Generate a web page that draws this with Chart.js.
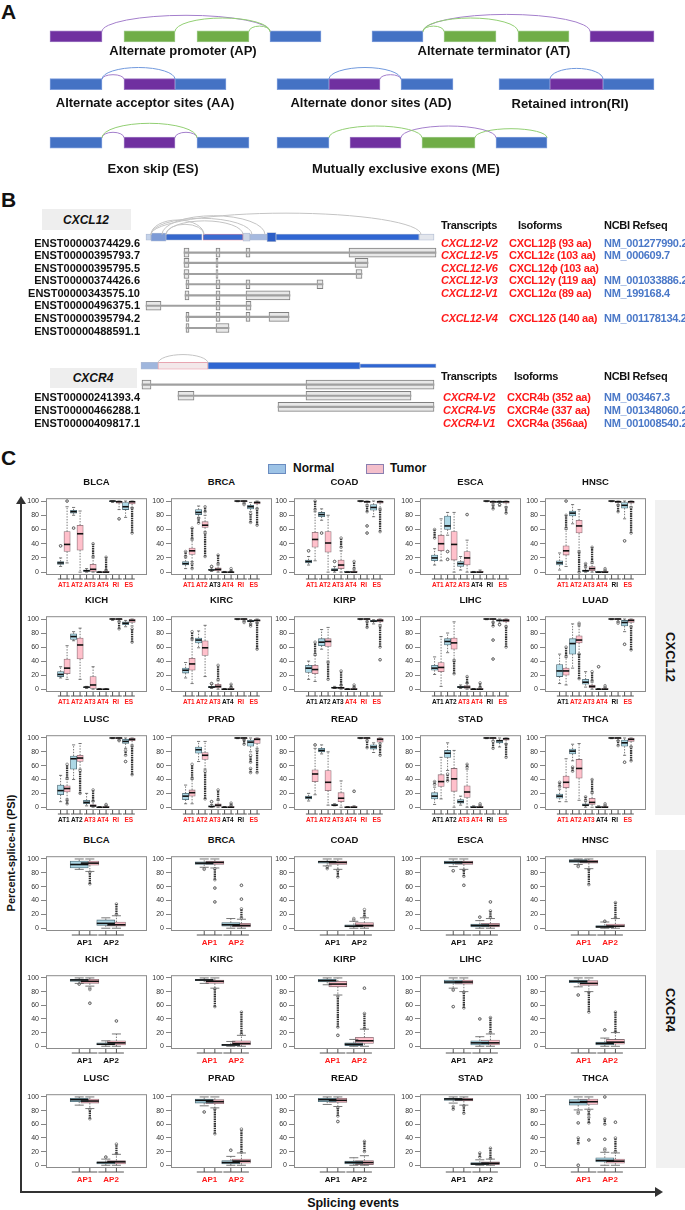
<!DOCTYPE html>
<html>
<head>
<meta charset="utf-8">
<script src="https://cdn.jsdelivr.net/npm/chart.js@4.4.1/dist/chart.umd.min.js"></script>
<style>
  body { margin: 0; background: #fff; }
  #page { position: relative; width: 685px; height: 1210px; overflow: hidden; background: #fff;
          font-family: 'Liberation Sans', Arial, sans-serif; color: #111; }
  .t { position: absolute; white-space: nowrap; font-weight: bold; line-height: 1; }
  canvas { position: absolute; }
</style>
</head>
<body>
<div id="page"></div>
<script>
// ---------- data ----------
const cancers = ['BLCA','BRCA','COAD','ESCA','HNSC','KICH','KIRC','KIRP','LIHC','LUAD','LUSC','PRAD','READ','STAD','THCA'];
const cxcl12Events = ['AT1','AT2','AT3','AT4','RI','ES'];
const cxcr4Events = ['AP1','AP2'];
const psiTicks = [0, 20, 40, 60, 80, 100];
const cxcl12Positions = [1,2,3,4,5,6,7,8,9,10,11,12];
const cxcr4Positions = [1,2,3.5,4.5];

// significance of each event label (1 = red)
const cxcl12Significant = ['111111','110111','111111','111001','111101','111111','111011','000111','001101','011101','001111','111001','111111','001101','111001'];
const cxcr4Significant = ['00','11','00','00','11','00','11','11','00','11','11','11','00','00','11'];

// box: [lowWhisker, q1, median, q3, highWhisker, outlierRanges]
// order: Normal AT1, Tumor AT1, Normal AT2, Tumor AT2, ...
const CXCL12_BLCA = [[8,11,13,15,20,[[37,37]]],[13,29,39,57,92,[[100,100]]],[80,83,85,87,91,[[62,62]]],[0,31,54,66,86],
  [0,1,2,3,5],[0,1,4,11,20,[[22,40]]],[0,0,0,0,1],[0,0,0,1,2,[[3,21]]],[98,99,100,100,100],[88,97,99,100,100,[[75,75]]],
  [77,88,92,98,100],[91,96,99,100,100,[[55,90]]]];
const CXCL12_BRCA = [[5,10,12,15,20,[[22,29]]],[15,25,30,34,45,[[5,12],[47,62]]],[77,81,84,88,93,[[69,76]]],[57,63,66,71,80,[[22,55],[85,92]]],
  [1,3,3,4,6,[[8,8]]],[0,2,4,6,10,[[12,24]]],[0,0,0,0,1],[0,0,0,0,1,[[2,5]]],[99,100,100,100,100],[97,99,100,100,100,[[95,97]]],
  [85,89,92,94,98,[[70,82]]],[90,96,98,99,100,[[66,89]]]];
const CXCL12_COAD = [[10,13,15,17,22,[[30,30]]],[16,35,46,56,85,[[88,100]]],[73,78,81,84,89,[[55,55]]],[0,28,41,57,80],
  [0,2,3,5,8,[[15,15]]],[0,5,10,17,30,[[35,48]]],[0,0,0,1,1],[0,0,0,1,3,[[5,15]]],[99,100,100,100,100],[95,98,99,100,100,[[55,55],[65,65],[85,93]]],
  [78,87,91,95,100],[90,97,99,100,100,[[57,88]]]];
const CXCL12_ESCA = [[10,16,20,24,33,[[48,60]]],[16,30,40,52,75],[52,60,65,79,84,[[18,18],[29,29]]],[0,17,39,57,84],
  [3,8,12,15,22],[0,10,20,29,45,[[81,81]]],[0,0,0,0,1],[0,0,0,1,3],[99,100,100,100,100],[96,98,99,100,100,[[89,94]]],
  [93,98,99,100,100,[[95,95]]],[92,97,99,100,100,[[83,91]]]];
const CXCL12_HNSC = [[3,10,13,16,27],[8,24,30,37,60,[[62,80],[100,100]]],[68,79,83,86,95],[30,55,65,73,88,[[0,28]]],
  [0,1,2,3,6,[[8,12]]],[0,2,5,8,12,[[14,35]]],[0,0,0,1,1],[0,0,0,1,2,[[3,5]]],[99,100,100,100,100],[95,98,99,100,100,[[85,94]]],
  [75,90,94,98,100,[[44,44]]],[92,97,99,100,100,[[55,91]]]];
const CXCL12_KICH = [[16,18,21,25,32],[14,22,30,43,62],[69,71,75,79,82],[14,43,63,73,87],
  [1,2,3,3,4],[0,1,6,18,32],[0,0,0,0,1],[0,0,0,0,1],[98,100,100,100,100],[97,99,100,100,100,[[86,96]]],
  [89,92,94,96,98],[90,95,98,100,100,[[67,86]]]];
const CXCL12_KIRC = [[16,23,27,30,38],[8,27,36,44,70,[[72,82]]],[59,66,70,73,83],[18,48,59,69,91],
  [1,2,3,4,7,[[8,8]]],[0,2,4,7,12,[[14,34]]],[0,0,0,0,1],[0,0,0,1,2,[[3,7]]],[99,100,100,100,100],[97,99,100,100,100,[[95,97]]],
  [93,96,97,98,99,[[90,93]]],[95,97,98,99,100,[[57,94]]]];
const CXCL12_KIRP = [[14,24,30,34,40],[11,22,28,34,48,[[50,67]]],[57,62,67,72,85],[40,61,68,72,88,[[14,38]]],
  [1,2,2,3,4],[0,1,2,3,5,[[6,26]]],[0,0,0,0,1],[0,0,0,1,2,[[3,6]]],[99,100,100,100,100],[97,99,100,100,100,[[88,96]]],
  [93,96,97,98,99],[92,96,98,100,100,[[42,42],[60,90]]]];
const CXCL12_LIHC = [[21,27,30,34,46],[4,25,31,38,75],[52,63,68,72,80],[42,57,66,73,96,[[22,40]]],
  [1,2,3,4,6],[0,1,3,5,8,[[9,18]]],[0,0,0,0,1],[0,0,0,1,2,[[3,9]]],[99,100,100,100,100],[96,99,100,100,100,[[43,43],[70,70],[90,95]]],
  [94,97,98,99,100,[[92,92]]],[90,96,98,100,100,[[60,89]]]];
const CXCL12_LUAD = [[8,18,26,35,50],[6,20,26,30,45,[[47,60]]],[30,50,65,72,93],[50,66,70,76,90,[[15,50],[92,94]]],
  [3,7,10,14,25],[0,2,4,6,10,[[12,25]]],[0,0,0,0,1,[[32,32]]],[0,0,0,1,2,[[3,5]]],[99,100,100,100,100],[96,99,100,100,100,[[94,96]]],
  [82,90,95,98,100,[[64,64]]],[90,95,98,100,100,[[56,89]]]];
const CXCL12_LUSC = [[8,18,24,32,46],[12,22,27,31,40,[[5,10],[42,62]]],[40,55,70,74,90],[55,66,71,75,92,[[20,53]]],
  [2,5,7,10,20],[0,1,2,4,8,[[9,25]]],[0,0,0,0,1],[0,0,0,1,2,[[3,4]]],[99,100,100,100,100],[97,99,100,100,100,[[96,97]]],
  [85,92,95,98,100,[[66,66],[75,82]]],[90,96,98,100,100,[[47,88]]]];
const CXCL12_PRAD = [[5,11,16,20,32],[5,16,21,25,40,[[42,62]]],[66,78,83,87,95],[55,69,75,79,95,[[12,52]]],
  [0,1,1,2,4,[[8,8]]],[0,1,3,5,10,[[11,25]]],[0,0,0,0,1],[0,0,0,1,2,[[3,6]]],[99,100,100,100,100],[98,99,100,100,100,[[91,97]]],
  [80,88,94,97,100,[[50,56],[65,75]]],[85,92,98,100,100,[[50,82]]]];
const CXCL12_READ = [[9,12,14,16,20],[18,37,48,54,85,[[90,90]]],[77,80,82,85,90],[3,24,36,53,80],
  [2,3,3,4,5],[0,8,13,21,38],[0,0,0,0,1],[0,0,0,1,2,[[23,23]]],[99,100,100,100,100],[97,99,100,100,100,[[86,96]]],
  [79,84,87,90,93],[88,94,98,100,100,[[75,92]]]];
const CXCL12_STAD = [[4,12,16,21,29,[[33,37]]],[12,30,37,47,72],[53,72,78,82,93,[[38,48]]],[0,23,41,56,82],
  [3,6,8,11,16],[0,14,22,31,55,[[58,62]]],[0,0,0,1,2],[0,0,0,1,2,[[3,5]]],[99,100,100,100,100],[96,99,100,100,100,[[85,95]]],
  [87,93,96,97,100],[92,97,99,100,100,[[72,91]]]];
const CXCL12_THCA = [[8,13,16,19,26,[[30,36]]],[8,28,36,45,70],[67,77,81,84,91,[[52,58]]],[10,42,56,69,92],
  [0,2,3,5,8,[[10,15]]],[0,4,7,13,20,[[22,40]]],[0,0,0,1,2],[0,0,0,1,2,[[3,5]]],[99,100,100,100,100],[96,99,100,100,100,[[89,96]]],
  [75,88,93,97,100,[[65,65]]],[88,95,98,100,100,[[67,87]]]];

// order: Normal AP1, Tumor AP1, Normal AP2, Tumor AP2
const CXCR4_BLCA = [[85,87,92,97,100],[82,91,94,97,100,[[64,81]]],[0,4,7,12,15],[0,3,5,9,18,[[20,35]]]];
const CXCR4_BRCA = [[88,92,94,96,100,[[85,86]]],[87,92,95,97,100,[[38,38],[58,58],[70,86]]],[0,3,5,8,14],[0,2,4,7,13,[[15,28],[42,42],[62,62]]]];
const CXCR4_COAD = [[90,94,96,97,100,[[86,89]]],[85,92,95,97,100,[[74,84]]],[0,2,3,5,10,[[12,14]]],[0,2,4,8,15,[[17,27]]]];
const CXCR4_ESCA = [[89,93,95,97,100,[[83,83]]],[85,92,95,97,100,[[62,62],[75,84]]],[0,2,4,6,11,[[16,16]]],[0,2,4,7,14,[[16,25],[38,38]]]];
const CXCR4_HNSC = [[92,95,97,99,100,[[89,90]]],[86,94,96,98,100,[[63,85]]],[0,1,2,4,9,[[10,10]]],[0,2,3,6,14,[[15,37]]]];
const CXCR4_KICH = [[92,95,97,98,100,[[91,91]]],[88,92,95,98,100,[[63,63],[83,85]]],[0,2,3,5,8],[0,2,5,8,18,[[37,37]]]];
const CXCR4_KIRC = [[92,96,97,98,100],[85,92,95,97,100,[[58,84]]],[0,1,2,3,7],[0,2,4,8,16,[[18,50]]]];
const CXCR4_KIRP = [[90,94,96,98,100],[75,87,91,95,100,[[16,16],[28,73]]],[0,1,3,5,10],[0,4,8,13,25,[[26,48],[85,85]]]];
const CXCR4_LIHC = [[85,92,94,97,100,[[58,58],[82,83]]],[80,91,94,97,100,[[56,79]]],[0,2,5,8,14,[[40,40]]],[0,2,5,9,18,[[20,42]]]];
const CXCR4_LUAD = [[87,93,95,97,100,[[75,75]]],[80,89,92,96,100,[[50,79]]],[0,2,4,6,12,[[24,24]]],[0,3,6,10,20,[[21,50]]]];
const CXCR4_LUSC = [[88,93,96,98,100],[83,91,94,97,100,[[68,82]]],[0,2,4,5,9,[[12,12]]],[0,2,5,7,16,[[17,31]]]];
const CXCR4_PRAD = [[87,91,95,97,100,[[78,78]]],[84,90,93,96,100,[[46,82]]],[0,2,4,7,13,[[22,22]]],[0,3,6,9,18,[[19,53]]]];
const CXCR4_READ = [[89,93,96,98,100],[86,92,95,98,100,[[64,64],[72,84]]],[0,2,4,6,11],[0,1,4,7,14,[[20,35]]]];
const CXCR4_STAD = [[91,95,97,98,100,[[82,86]]],[88,94,96,98,100,[[76,87]]],[0,1,2,4,8,[[12,18]]],[0,1,3,5,9,[[10,25]]]];
const CXCR4_THCA = [[81,88,92,96,100,[[0,0],[32,40],[62,62],[76,78]]],[82,89,93,97,100,[[37,37],[62,70],[74,80]]],
  [0,5,7,11,19,[[22,24],[38,38],[60,68],[100,100]]],[0,3,6,9,18,[[20,40],[63,63]]]];

const cxcl12Data = [CXCL12_BLCA,CXCL12_BRCA,CXCL12_COAD,CXCL12_ESCA,CXCL12_HNSC,CXCL12_KICH,CXCL12_KIRC,CXCL12_KIRP,
  CXCL12_LIHC,CXCL12_LUAD,CXCL12_LUSC,CXCL12_PRAD,CXCL12_READ,CXCL12_STAD,CXCL12_THCA];
const cxcr4Data = [CXCR4_BLCA,CXCR4_BRCA,CXCR4_COAD,CXCR4_ESCA,CXCR4_HNSC,CXCR4_KICH,CXCR4_KIRC,CXCR4_KIRP,
  CXCR4_LIHC,CXCR4_LUAD,CXCR4_LUSC,CXCR4_PRAD,CXCR4_READ,CXCR4_STAD,CXCR4_THCA];

// panel A schematic: exons [start, end, row], arcs [start, end, row, peak]
const aRowY = [30.5, 83.5, 148.5];
const aPurpleExons = [[50,102,0],[590,654,0],[124,175,1],[329,380,1],[550,603,1],[124,175,2],[350,401,2]];
const aGreenExons = [[124,175,0],[197,249,0],[444,496,0],[518,569,0],[422,475,2]];
const aBlueExons = [[270,321,0],[372,423,0],[50,102,1],[175,226,1],[277,329,1],[401,453,1],[499,550,1],[603,654,1],
  [50,102,2],[197,249,2],[277,329,2],[496,547,2]];
const aPurpleArcs = [[102,270,0,7],[423,590,0,6],[102,124,1,73],[380,401,1,73],[102,124,2,137],[175,197,2,137],[401,496,2,130]];
const aGreenArcs = [[175,270,0,10],[249,270,0,19],[423,518,0,10],[423,444,0,19],[102,197,2,127],[329,422,2,130],[475,547,2,133]];
const aBlueArcs = [[102,175,1,65],[329,401,1,65],[550,603,1,66]];
const aLabels = [['Alternate promoter (AP)',183,50],['Alternate terminator (AT)',494,50],['Alternate acceptor sites (AA)',145,102],
  ['Alternate donor sites (AD)',371,102],['Retained intron(RI)',570,103],['Exon skip (ES)',153,168],['Mutually exclusive  exons (ME)',406,168]];

// panel B transcripts
const cxcl12Transcripts = ['ENST00000374429.6','ENST00000395793.7','ENST00000395795.5','ENST00000374426.6',
  'ENST00000343575.10','ENST00000496375.1','ENST00000395794.2','ENST00000488591.1'];
const cxcl12RowY = [243,255,268,280,293,305,318,331];
const cxcl12Exons = [[[184,189],[216,220],[246,250],[349,436]],[[184,189],[216,218],[355,368]],[[184,189],[216,218],[356,362]],
  [[186,189],[216,220],[246,250],[317,323]],[[185,189],[216,220],[246,290]],[[146,161],[216,220],[246,251]],
  [[186,189],[216,220],[246,250],[269,289]],[[186,189],[216,229]]];
const cxcl12Isoforms = [['CXCL12-V2','CXCL12β (93 aa)','NM_001277990.2',0],['CXCL12-V5','CXCL12ε (103 aa)','NM_000609.7',1],
  ['CXCL12-V6','CXCL12ϕ (103 aa)','',2],['CXCL12-V3','CXCL12γ (119 aa)','NM_001033886.2',3],['CXCL12-V1','CXCL12α (89 aa)','NM_199168.4',4],
  ['CXCL12-V4','CXCL12δ (140 aa)','NM_001178134.2',6]];
const cxcr4Transcripts = ['ENST00000241393.4','ENST00000466288.1','ENST00000409817.1'];
const cxcr4RowY = [397,410,423];
const cxcr4Exons = [[[142,151],[306,434]],[[178,194],[306,411]],[[278,434]]];
const cxcr4Isoforms = [['CXCR4-V2','CXCR4b (352 aa)','NM_003467.3',0],['CXCR4-V5','CXCR4e (337 aa)','NM_001348060.2',1],
  ['CXCR4-V1','CXCR4a (356aa)','NM_001008540.2',2]];
// gene models: [start, end, centre y, fill, height]
const geneSegments = [[146,151,225,'#c5d3ea',6],[151,166,225,'#7d9bd6',8],[166,202,225,'#3567cc',6],[203,243,225,'#3a6bd0',6],
  [243,250,225,'#ccd5e5',8],[250,267,225,'#a5b9df',6],[267,276,225,'#2c5ec6',9],[276,419,225,'#2f66d2',6],[419,434,225,'#e3e6ec',6],
  [141,158,375,'#9fb6dd',7],[158,208,375,'#f3e8ea',7],[208,360,375,'#2f66d2',7],[360,436,375,'#2f66d2',4]];
// junction arcs over gene models: [start, end, base y, peak y]
const geneArcs = [[151,421,222,197],[162,265,222,200],[151,252,222,203],[166,243,222,206],[166,204,222,210],[151,204,222,205],[158,208,372,362]];

// ---------- helpers ----------
const FONT = "'Liberation Sans', Arial, sans-serif";
const RED = '#ff1a1a';
const NORMAL_FILL = '#add8e6', NORMAL_LINE = '#4e6a75';
const TUMOR_FILL = '#ffc0cb', TUMOR_LINE = '#8a6f76';
Chart.defaults.font.family = FONT;
const page = document.getElementById('page');

function txt(s, x, y, style) {
  const d = document.createElement('div');
  d.className = 't';
  d.textContent = s;
  d.style.left = x + 'px';
  d.style.top = y + 'px';
  Object.assign(d.style, style || {});
  page.appendChild(d);
  return d;
}
function box(x, y, w, h, style) {
  const d = document.createElement('div');
  Object.assign(d.style, {position:'absolute', left:x+'px', top:y+'px', width:w+'px', height:h+'px'}, style || {});
  page.appendChild(d);
  return d;
}
function newCanvas(x, y, w, h) {
  const c = document.createElement('canvas');
  c.width = w; c.height = h;
  c.style.left = x + 'px'; c.style.top = y + 'px';
  c.style.width = w + 'px'; c.style.height = h + 'px';
  page.appendChild(c);
  return c;
}
function seg(ctx, x1, y1, x2, y2) { ctx.beginPath(); ctx.moveTo(x1, y1); ctx.lineTo(x2, y2); ctx.stroke(); }
function halfEllipse(ctx, x0, x1, yb, yp) {
  ctx.beginPath();
  ctx.ellipse((x0 + x1) / 2, yb, Math.abs(x1 - x0) / 2, Math.abs(yb - yp), 0, Math.PI, 2 * Math.PI);
  ctx.stroke();
}
const C = 'translate(-50%,-50%)', L = 'translateY(-50%)', R = 'translate(-100%,-50%)';

// ---------- panel A ----------
txt('A', 1, 11, {fontSize:'21px', transform:L});
const canA = newCanvas(0, 0, 685, 180);
const exonData = arr => arr.map(e => ({x:[e[0], e[1]], y:aRowY[e[2]]}));
const arcPlugin = (list) => ({
  id: 'arcs',
  afterDatasetsDraw(chart) {
    const ctx = chart.ctx, xs = chart.scales.x, ys = chart.scales.y;
    ctx.save();
    ctx.lineWidth = 1;
    list.forEach(([arcs, color, baseOf]) => {
      ctx.strokeStyle = color;
      arcs.forEach(a => halfEllipse(ctx, xs.getPixelForValue(a[0]), xs.getPixelForValue(a[1]),
        ys.getPixelForValue(baseOf(a)), ys.getPixelForValue(a[3])));
    });
    ctx.restore();
  }
});
const aBase = a => aRowY[a[2]] - 5.5;
new Chart(canA, {
  type: 'bar',
  data: {datasets: [
    {data: exonData(aPurpleExons), backgroundColor:'#7030a0', borderColor:'#9b76c2', borderWidth:1, borderSkipped:false, barThickness:11, grouped:false},
    {data: exonData(aGreenExons), backgroundColor:'#70ad47', borderColor:'#9cc987', borderWidth:1, borderSkipped:false, barThickness:11, grouped:false},
    {data: exonData(aBlueExons), backgroundColor:'#4472c4', borderColor:'#7d9ddb', borderWidth:1, borderSkipped:false, barThickness:11, grouped:false}
  ]},
  options: {
    indexAxis:'y', responsive:false, animation:false, devicePixelRatio:1,
    layout:{padding:0},
    plugins:{legend:{display:false}, tooltip:{enabled:false}},
    scales:{x:{type:'linear', min:0, max:685, display:false}, y:{type:'linear', min:0, max:180, reverse:true, display:false}}
  },
  plugins:[arcPlugin([[aPurpleArcs,'#a47fcc',aBase],[aGreenArcs,'#92cf73',aBase],[aBlueArcs,'#7199dd',aBase]])]
});
aLabels.forEach(([s, x, y]) => txt(s, x, y, {fontSize:'13px', transform:C}));

// ---------- panel B ----------
txt('B', 1, 199, {fontSize:'21px', transform:L});
box(42, 209, 89, 21, {background:'#eeeeee'});
txt('CXCL12', 86, 220, {fontSize:'12px', fontStyle:'italic', transform:C});
box(50, 368, 87, 20, {background:'#eeeeee'});
txt('CXCR4', 93, 378, {fontSize:'12px', fontStyle:'italic', transform:C});
const canB = newCanvas(0, 180, 685, 260);
const intronData = [], exonBoxes = [];
[[cxcl12Exons, cxcl12RowY], [cxcr4Exons, cxcr4RowY]].forEach(([rows, ys]) => rows.forEach((ex, i) => {
  intronData.push({x:[ex[0][0], ex[ex.length - 1][1]], y:ys[i]});
  ex.forEach(e => exonBoxes.push({x:[e[0], e[1]], y:ys[i]}));
}));
const geneSets = [4, 6, 7, 8, 9].map(h => {
  const segs = geneSegments.filter(s => s[4] === h);
  return {data: segs.map(s => ({x:[s[0], s[1]], y:s[2]})), backgroundColor: segs.map(s => s[3]),
    borderColor: segs.map(s => (s[0] === 203 || s[0] === 158) ? '#e58f9e' : 'rgba(120,140,180,0.6)'),
    borderWidth: 0.8, borderSkipped:false, barThickness:h, grouped:false};
});
new Chart(canB, {
  type: 'bar',
  data: {datasets: [
    {data:intronData, backgroundColor:'#a0a0a0', barThickness:1.5, grouped:false},
    {data:exonBoxes, backgroundColor:'#e8e8e8', borderColor:'#808080', borderWidth:1, borderSkipped:false, barThickness:9, grouped:false},
    ...geneSets
  ]},
  options: {
    indexAxis:'y', responsive:false, animation:false, devicePixelRatio:1,
    layout:{padding:0},
    plugins:{legend:{display:false}, tooltip:{enabled:false}},
    scales:{x:{type:'linear', min:0, max:685, display:false}, y:{type:'linear', min:180, max:440, reverse:true, display:false}}
  },
  plugins:[arcPlugin([[geneArcs, '#c4c4c4', a => a[2]]])]
});
const colText = {fontSize:'11px', letterSpacing:'-0.3px'};
cxcl12Transcripts.forEach((s, i) => txt(s, 140, cxcl12RowY[i], {fontSize:'11px', transform:R}));
cxcr4Transcripts.forEach((s, i) => txt(s, 140, cxcr4RowY[i], {fontSize:'11px', transform:R}));
[[225, [441, 518, 604]], [376, [441, 514, 604]]].forEach(([y, xs]) => {
  ['Transcripts', 'Isoforms', 'NCBI Refseq'].forEach((s, k) => txt(s, xs[k], y, {...colText, transform:L}));
});
cxcl12Isoforms.forEach(([v, iso, ref, r]) => {
  const y = cxcl12RowY[r];
  txt(v, 441, y, {...colText, fontStyle:'italic', color:RED, transform:L});
  txt(iso, 509, y, {...colText, color:RED, transform:L});
  if (ref) txt(ref, 604, y, {...colText, color:'#4a78c8', transform:L});
});
cxcr4Isoforms.forEach(([v, iso, ref, r]) => {
  const y = cxcr4RowY[r];
  txt(v, 443, y, {...colText, fontStyle:'italic', color:RED, transform:L});
  txt(iso, 507, y, {...colText, color:RED, transform:L});
  txt(ref, 604, y, {...colText, color:'#4a78c8', transform:L});
});

// ---------- panel C frame ----------
txt('C', 1, 457, {fontSize:'21px', transform:L});
box(268, 464, 16, 8, {background:'#9dc3e6', border:'1px solid #6a8cc0'});
txt('Normal', 293, 468, {fontSize:'12px', transform:L});
box(366, 464, 16, 8, {background:'#f4bfcb', border:'1px solid #8a7fb0'});
txt('Tumor', 390, 468, {fontSize:'12px', transform:L});
box(655, 500, 30, 315, {background:'#f1f1f1'});
box(656, 850, 29, 318, {background:'#f1f1f1'});
txt('CXCL12', 670, 657, {fontSize:'13px', transform:C + ' rotate(90deg)'});
txt('CXCR4', 670, 1010, {fontSize:'13px', transform:C + ' rotate(90deg)'});
box(20, 502, 1.5, 690, {background:'#333'});
box(15.5, 496, 0, 0, {borderLeft:'5px solid transparent', borderRight:'5px solid transparent', borderBottom:'8px solid #333'});
box(20, 1191, 636, 1.5, {background:'#333'});
box(655, 1187, 0, 0, {borderTop:'5px solid transparent', borderBottom:'5px solid transparent', borderLeft:'8px solid #333'});
txt('Percent-splice-in (PSI)', 11, 853, {fontSize:'11px', transform:C + ' rotate(-90deg)'});
txt('Splicing events', 353, 1203, {fontSize:'12.5px', transform:C});

// ---------- box plots ----------
const YW = 20, PT = 3, XH = 20;
function boxExtras(data, positions, bw, ext) {
  return {
    id: 'boxExtras',
    afterDatasetsDraw(chart) {
      const ctx = chart.ctx, xs = chart.scales.x, ys = chart.scales.y, a = chart.chartArea;
      const Y = v => ys.getPixelForValue(v);
      ctx.save();
      data.forEach((b, i) => {
        const px = xs.getPixelForValue(positions[i]);
        const [lo, q1, med, q3, hi, outs] = b;
        ctx.strokeStyle = '#555'; ctx.lineWidth = 0.8;
        ctx.setLineDash([1.4, 1.4]);
        if (hi > q3) seg(ctx, px, Y(q3), px, Y(hi));
        if (lo < q1) seg(ctx, px, Y(q1), px, Y(lo));
        ctx.setLineDash([]);
        seg(ctx, px - bw / 4, Y(hi), px + bw / 4, Y(hi));
        seg(ctx, px - bw / 4, Y(lo), px + bw / 4, Y(lo));
        (outs || []).forEach(([u, v]) => {
          const y1 = Y(u), y2 = Y(v);
          if (Math.abs(y1 - y2) > 2) {
            ctx.strokeStyle = '#333'; ctx.lineWidth = 2.3;
            ctx.setLineDash([1.6, 0.7]);
            seg(ctx, px, y1, px, y2);
            ctx.setLineDash([]);
          }
          ctx.strokeStyle = '#666'; ctx.lineWidth = 0.7;
          [y1, y2].forEach(yy => { ctx.beginPath(); ctx.arc(px, yy, 1.3, 0, 2 * Math.PI); ctx.stroke(); });
        });
        ctx.strokeStyle = '#111'; ctx.lineWidth = 1.6;
        seg(ctx, px - bw / 2, Y(med), px + bw / 2, Y(med));
      });
      // frame
      ctx.strokeStyle = '#8c8c8c'; ctx.lineWidth = 1;
      ctx.strokeRect(a.left + 0.5, a.top + 0.5, a.width - 1, a.height - 1);
      // ticks and pair brackets under the plot
      ctx.strokeStyle = '#555'; ctx.lineWidth = 1;
      const yb = a.bottom + 4;
      positions.forEach(p => seg(ctx, xs.getPixelForValue(p), a.bottom, xs.getPixelForValue(p), yb));
      for (let k = 0; k < positions.length; k += 2) {
        seg(ctx, xs.getPixelForValue(positions[k]) - ext, yb, xs.getPixelForValue(positions[k + 1]) + ext, yb);
      }
      ctx.restore();
    }
  };
}

function boxChart({name, data, positions, xMin, xMax, labels, sig, left, top, w, h, frac, labelSize}) {
  const c = newCanvas(left - YW, top - PT, w + YW + 3, h + PT + XH);
  const unit = w / (xMax - xMin);
  const bw = frac * unit;
  const normal = [], tumor = [];
  data.forEach((b, i) => (i % 2 === 0 ? normal : tumor).push({x:positions[i], y:[b[1], b[3]]}));
  const centers = labels.map((l, k) => (positions[2 * k] + positions[2 * k + 1]) / 2);
  new Chart(c, {
    type: 'bar',
    data: {datasets: [
      {label:'Normal', data:normal, backgroundColor:NORMAL_FILL, borderColor:NORMAL_LINE, borderWidth:0.8, borderSkipped:false, barThickness:bw, grouped:false},
      {label:'Tumor', data:tumor, backgroundColor:TUMOR_FILL, borderColor:TUMOR_LINE, borderWidth:0.8, borderSkipped:false, barThickness:bw, grouped:false}
    ]},
    options: {
      responsive:false, animation:false, devicePixelRatio:1,
      layout:{padding:{top:PT, right:3, left:0, bottom:0}},
      plugins:{legend:{display:false}, tooltip:{enabled:false}},
      scales: {
        x: {
          type:'linear', min:xMin, max:xMax,
          afterBuildTicks: ax => { ax.ticks = centers.map(v => ({value:v})); },
          afterFit: ax => { ax.height = XH; },
          grid:{display:false, drawTicks:false}, border:{display:false},
          ticks:{autoSkip:false, maxRotation:0, padding:labelSize > 7 ? 7 : 6.5,
            font:{size:labelSize, weight:'bold'},
            color: ctx => sig[ctx.index] === '1' ? RED : '#111',
            callback: (v, i) => labels[i]}
        },
        y: {
          min:-4, max:104,
          afterBuildTicks: ax => { ax.ticks = psiTicks.map(v => ({value:v})); },
          afterFit: ax => { ax.width = YW; },
          grid:{drawOnChartArea:false, drawTicks:true, tickLength:5, color:'#666', lineWidth:0.8},
          border:{display:false},
          ticks:{padding:2, font:{size:7}, color:'#333'}
        }
      }
    },
    plugins:[boxExtras(data, positions, bw, 0.35 * unit)]
  });
  txt(name, left + w / 2, top - 13, {fontSize:'9.5px', transform:C});
}

const colLeft = [46, 171, 294, 420, 545];
const cxcl12Rows = [[495, 80], [613, 79], [732, 78]];
const cxcr4Rows = [[853, 78], [972, 77], [1091, 77]];
cancers.forEach((name, i) => {
  const col = i % 5, row = Math.floor(i / 5);
  boxChart({name, data:cxcl12Data[i], positions:cxcl12Positions, xMin:0.05, xMax:13.0, labels:cxcl12Events,
    sig:cxcl12Significant[i], left:colLeft[col], top:cxcl12Rows[row][0], w:101, h:cxcl12Rows[row][1], frac:0.8, labelSize:6.5});
  boxChart({name, data:cxcr4Data[i], positions:cxcr4Positions, xMin:0.25, xMax:5.0, labels:cxcr4Events,
    sig:cxcr4Significant[i], left:colLeft[col], top:cxcr4Rows[row][0], w:101, h:cxcr4Rows[row][1], frac:0.85, labelSize:8});
});
</script>
</body>
</html>
